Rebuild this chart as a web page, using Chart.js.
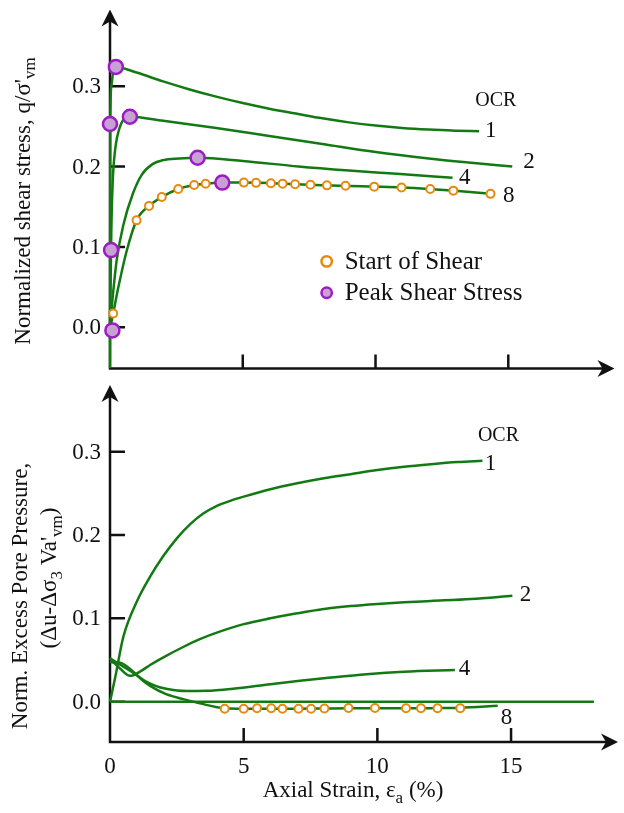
<!DOCTYPE html>
<html>
<head>
<meta charset="utf-8">
<script src="https://cdn.jsdelivr.net/npm/chart.js@4.4.1/dist/chart.umd.min.js"></script>
<style>
  body { margin: 0; background: #fff; }
  .panel { position: absolute; left: 0; }
</style>
</head>
<body>
<canvas id="shearChart" class="panel" width="624" height="378" style="top:0"></canvas>
<canvas id="poreChart" class="panel" width="624" height="435" style="top:378px"></canvas>
<script>
// ---- shear stress panel (q / sigma'vm vs axial strain %) ----
const shearOcr1X = [0, 0.01, 0.05, 0.12, 0.22, 1, 2, 3, 4, 5, 6, 7, 8, 9, 10, 11, 12, 13, 13.9];
const shearOcr1Y = [-0.051, 0.25, 0.3, 0.318, 0.324, 0.317, 0.306, 0.296, 0.287, 0.279, 0.272, 0.266, 0.26, 0.255, 0.251, 0.248, 0.246, 0.2447, 0.244];
const shearOcr2X = [0, 0.05, 0.1, 0.19, 0.37, 0.75, 2, 4, 6, 8, 10, 12, 13.5, 15.15];
const shearOcr2Y = [0, 0.12, 0.18, 0.22, 0.249, 0.262, 0.257, 0.248, 0.238, 0.228, 0.218, 0.21, 0.205, 0.2];
const shearOcr4X = [0, 0.1, 0.25, 0.5, 0.87, 1.2, 1.6, 2.0, 2.6, 3.3, 5, 7.1, 9, 10.8, 12.9];
const shearOcr4Y = [0, 0.037, 0.083, 0.127, 0.167, 0.19, 0.203, 0.208, 0.21, 0.211, 0.207, 0.2, 0.195, 0.191, 0.186];
const shearOcr8X = [0, 0.12, 0.31, 0.62, 1.0, 1.47, 1.95, 2.57, 3.17, 3.6, 4.23, 5, 6, 7, 8, 9, 10, 11, 12, 13, 14.33];
const shearOcr8Y = [-0.002, 0.017, 0.049, 0.094, 0.133, 0.151, 0.162, 0.172, 0.177, 0.1785, 0.18, 0.18, 0.1793, 0.178, 0.1768, 0.1758, 0.175, 0.174, 0.1722, 0.1698, 0.166];
const shearStartX = [0.12, 1.0, 1.47, 1.95, 2.57, 3.17, 3.6, 5.04, 5.5, 6.06, 6.5, 6.97, 7.55, 8.17, 8.87, 9.95, 10.98, 12.06, 12.93, 14.33];
const shearStartY = [0.017, 0.133, 0.151, 0.162, 0.172, 0.177, 0.1785, 0.18, 0.1797, 0.1792, 0.1787, 0.178, 0.1774, 0.1766, 0.176, 0.175, 0.174, 0.172, 0.17, 0.166];
const shearPeakX = [0.22, 0, 0.75, 3.3, 4.23, 0.04, 0.09];
const shearPeakY = [0.324, 0.253, 0.262, 0.211, 0.18, 0.096, -0.004];

// ---- excess pore pressure panel ----
const poreOcr1X = [0, 0.2, 0.5, 1, 1.5, 2, 2.5, 3, 3.5, 4, 4.5, 5, 6, 7, 8, 9, 10, 11, 12, 13, 13.93];
const poreOcr1Y = [0, 0.03, 0.078, 0.12, 0.15, 0.175, 0.196, 0.213, 0.226, 0.235, 0.241, 0.246, 0.255, 0.262, 0.268, 0.273, 0.278, 0.282, 0.285, 0.2875, 0.289];
const poreOcr2X = [0, 0.37, 0.75, 1.12, 1.5, 2.1, 2.7, 3.36, 4.1, 5, 6, 7, 8, 9, 10, 11, 12, 13.5, 15.05];
const poreOcr2Y = [0.052, 0.04, 0.031, 0.036, 0.044, 0.055, 0.065, 0.075, 0.084, 0.093, 0.1, 0.106, 0.1112, 0.1147, 0.1172, 0.1192, 0.1208, 0.1232, 0.127];
const poreOcr4X = [0, 0.4, 0.9, 1.3, 1.7, 2.1, 2.86, 3.6, 4.6, 6, 7.1, 8, 9.6, 11, 12.9];
const poreOcr4Y = [0.052, 0.044, 0.034, 0.025, 0.019, 0.0155, 0.0128, 0.013, 0.0155, 0.021, 0.025, 0.028, 0.033, 0.036, 0.038];
const poreOcr8X = [0, 0.15, 0.35, 0.6, 0.9, 1.2, 1.5, 2.1, 2.74, 3.36, 4.29, 5, 6, 7, 8, 9, 10, 11, 12, 13.1, 14.5];
const poreOcr8Y = [0.048, 0.047, 0.047, 0.043, 0.035, 0.026, 0.019, 0.009, 0.003, -0.002, -0.008, -0.0085, -0.0085, -0.0085, -0.0082, -0.008, -0.008, -0.008, -0.0078, -0.0072, -0.005];
const poreStartX = [4.29, 5.0, 5.5, 6.03, 6.45, 7.05, 7.52, 8.02, 8.92, 9.91, 11.07, 11.63, 12.25, 13.1];
const poreStartY = [-0.0085, -0.0084, -0.008, -0.008, -0.0084, -0.0084, -0.0084, -0.0082, -0.0076, -0.0076, -0.008, -0.008, -0.008, -0.0078];
const poreZeroX = [0, 18.1];
const poreZeroY = [0, 0];

// ---- axes ----
const strainTicks = [5, 10, 15];
const strainLabels = [0, 5, 10, 15];
const stressTicks = [0, 0.1, 0.2, 0.3];
const stressLabels = ['0.0', '0.1', '0.2', '0.3'];
const ocrNames = ['1', '2', '4', '8'];

const GREEN = '#137a13';
const ORANGE = '#e8890e';
const PURPLE = '#9c1cc4';
const LILAC = '#c9a0d4';
const INK = '#111';
const SERIF = "'Liberation Serif', 'Times New Roman', serif";

function pts(xs, ys) {
  return xs.map((x, i) => ({ x: x, y: ys[i] }));
}

function curve(xs, ys) {
  return {
    data: pts(xs, ys), showLine: true, borderColor: GREEN, borderWidth: 2.5,
    pointRadius: 0, cubicInterpolationMode: 'monotone', clip: false, order: 2
  };
}

function startMarks(xs, ys) {
  return {
    data: pts(xs, ys), showLine: false, pointRadius: 4, pointBorderWidth: 2,
    pointBackgroundColor: '#fff', pointBorderColor: ORANGE, clip: false, order: 1
  };
}

function peakMarks(xs, ys) {
  return {
    data: pts(xs, ys), showLine: false, pointRadius: 7, pointBorderWidth: 2.5,
    pointBackgroundColor: LILAC, pointBorderColor: PURPLE, clip: false, order: 0
  };
}

// text with sub-scripted pieces, optionally rotated to read bottom-up
function richText(ctx, segs, x, y, rotated) {
  ctx.save();
  ctx.translate(x, y);
  if (rotated) ctx.rotate(-Math.PI / 2);
  ctx.textAlign = 'left';
  ctx.textBaseline = 'alphabetic';
  ctx.fillStyle = INK;
  let total = 0;
  segs.forEach(s => {
    ctx.font = (s.size || 23) + 'px ' + SERIF;
    s.w = ctx.measureText(s.t).width;
    total += s.w;
  });
  let cx = -total / 2;
  segs.forEach(s => {
    ctx.font = (s.size || 23) + 'px ' + SERIF;
    ctx.fillText(s.t, cx, s.dy || 0);
    cx += s.w;
  });
  ctx.restore();
}

function arrowHead(ctx, tx, ty, dir) {
  // dir: 'up' or 'right'
  const len = 17, half = 8.5, notch = 5;
  ctx.save();
  ctx.translate(tx, ty);
  if (dir === 'right') ctx.rotate(Math.PI / 2);
  ctx.beginPath();
  ctx.moveTo(0, 0);
  ctx.lineTo(half, len);
  ctx.lineTo(0, len - notch);
  ctx.lineTo(-half, len);
  ctx.closePath();
  ctx.fillStyle = INK;
  ctx.fill();
  ctx.restore();
}

function framePlugin(cfg) {
  return {
    id: 'frame',
    beforeDatasetsDraw(chart) {
      const ctx = chart.ctx, a = chart.chartArea;
      const xs = chart.scales.x, ys = chart.scales.y;
      const x0 = xs.getPixelForValue(0);
      ctx.save();
      ctx.strokeStyle = INK;
      ctx.lineWidth = 2.5;
      ctx.beginPath();
      ctx.moveTo(x0, a.bottom);
      ctx.lineTo(x0, a.top + 10);
      ctx.moveTo(x0 - 1.2, a.bottom);
      ctx.lineTo(a.right - 10, a.bottom);
      stressTicks.forEach(v => {
        const py = ys.getPixelForValue(v);
        ctx.moveTo(x0, py);
        ctx.lineTo(x0 + 15, py);
      });
      strainTicks.forEach(v => {
        const px = xs.getPixelForValue(v);
        ctx.moveTo(px, a.bottom);
        ctx.lineTo(px, a.bottom - 14);
      });
      ctx.stroke();
      arrowHead(ctx, x0, a.top, 'up');
      arrowHead(ctx, a.right, a.bottom, 'right');
      ctx.restore();
    },
    afterDatasetsDraw(chart) {
      const ctx = chart.ctx, a = chart.chartArea;
      const xs = chart.scales.x, ys = chart.scales.y;
      const x0 = xs.getPixelForValue(0);
      ctx.save();
      ctx.fillStyle = INK;
      ctx.font = '23px ' + SERIF;
      ctx.textAlign = 'right';
      ctx.textBaseline = 'alphabetic';
      stressTicks.forEach((v, i) => {
        ctx.fillText(stressLabels[i], x0 - 9, ys.getPixelForValue(v) + 7);
      });
      if (cfg.strainLabels) {
        ctx.textAlign = 'center';
        strainLabels.forEach(v => {
          ctx.fillText(String(v), xs.getPixelForValue(v), a.bottom + 31);
        });
        richText(ctx, [{ t: 'Axial Strain, \u03b5' }, { t: 'a', size: 17, dy: 6 }, { t: ' (%)' }], 353, a.bottom + 55, false);
      }
      // OCR curve tags
      ctx.textAlign = 'center';
      ctx.textBaseline = 'middle';
      ctx.font = '20px ' + SERIF;
      ctx.fillText('OCR', xs.getPixelForValue(cfg.ocrHead[0]), ys.getPixelForValue(cfg.ocrHead[1]));
      ctx.font = '23px ' + SERIF;
      ocrNames.forEach((n, i) => {
        const p = cfg.ocrTags[i];
        ctx.fillText(n, xs.getPixelForValue(p[0]), ys.getPixelForValue(p[1]));
      });
      // axis title(s)
      cfg.titles.forEach(tl => richText(ctx, tl.segs, tl.x, tl.y, true));
      // legend
      if (cfg.legend) {
        const lx = xs.getPixelForValue(cfg.legend.x);
        cfg.legend.rows.forEach(r => {
          const py = ys.getPixelForValue(r.y);
          ctx.beginPath();
          ctx.arc(lx, py, 5.2, 0, Math.PI * 2);
          ctx.fillStyle = r.fill;
          ctx.fill();
          ctx.lineWidth = 2.5;
          ctx.strokeStyle = r.stroke;
          ctx.stroke();
          ctx.fillStyle = INK;
          ctx.font = '25px ' + SERIF;
          ctx.textAlign = 'left';
          ctx.textBaseline = 'middle';
          ctx.fillText(r.text, lx + 18, py + 1);
        });
      }
      ctx.restore();
    }
  };
}

function baseOptions(yMin, yMax, padBottom) {
  return {
    responsive: false,
    animation: false,
    events: [],
    layout: { padding: { left: 110, right: 4, top: 7, bottom: padBottom } },
    plugins: { legend: { display: false }, tooltip: { enabled: false } },
    scales: {
      x: { type: 'linear', min: 0, max: 19, display: false },
      y: { type: 'linear', min: yMin, max: yMax, display: false }
    }
  };
}

new Chart(document.getElementById('shearChart'), {
  type: 'scatter',
  data: {
    datasets: [
      curve(shearOcr1X, shearOcr1Y),
      curve(shearOcr2X, shearOcr2Y),
      curve(shearOcr4X, shearOcr4Y),
      curve(shearOcr8X, shearOcr8Y),
      startMarks(shearStartX, shearStartY),
      peakMarks(shearPeakX, shearPeakY)
    ]
  },
  options: baseOptions(-0.0514, 0.3955, 6),
  plugins: [framePlugin({
    strainLabels: false,
    ocrHead: [14.53, 0.2816],
    ocrTags: [[14.34, 0.2437], [15.78, 0.2051], [13.36, 0.1861], [15.02, 0.1635]],
    titles: [{ x: 30, y: 201, segs: [{ t: 'Normalized shear stress, q/\u03c3\'' }, { t: 'vm', size: 17, dy: 5 }] }],
    legend: {
      x: 8.16,
      rows: [
        { y: 0.082, text: 'Start of Shear', fill: '#fff', stroke: ORANGE },
        { y: 0.0429, text: 'Peak Shear Stress', fill: LILAC, stroke: PURPLE }
      ]
    }
  })]
});

new Chart(document.getElementById('poreChart'), {
  type: 'scatter',
  data: {
    datasets: [
      curve(poreZeroX, poreZeroY),
      curve(poreOcr1X, poreOcr1Y),
      curve(poreOcr2X, poreOcr2Y),
      curve(poreOcr4X, poreOcr4Y),
      curve(poreOcr8X, poreOcr8Y),
      startMarks(poreStartX, poreStartY)
    ]
  },
  options: baseOptions(-0.0484, 0.38, 71),
  plugins: [framePlugin({
    strainLabels: true,
    ocrHead: [14.53, 0.3189],
    ocrTags: [[14.23, 0.2853], [15.54, 0.128], [13.26, 0.0392], [14.83, -0.0196]],
    titles: [
      { x: 27, y: 218, segs: [{ t: 'Norm. Excess Pore Pressure,' }] },
      { x: 56, y: 200, segs: [{ t: '(\u0394u-\u0394\u03c3' }, { t: '3', size: 17, dy: 6 }, { t: ' Va\'' }, { t: 'vm', size: 17, dy: 6 }, { t: ')' }] }
    ],
    legend: null
  })]
});
</script>
</body>
</html>
